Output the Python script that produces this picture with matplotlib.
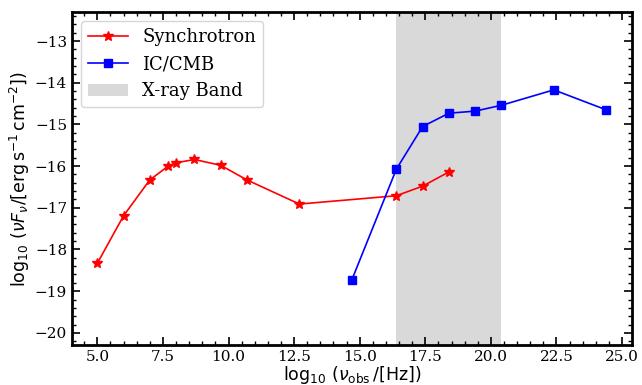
import matplotlib
matplotlib.use('Agg')
import matplotlib.pyplot as plt
from matplotlib.ticker import AutoMinorLocator

plt.rcParams['font.family'] = 'DejaVu Serif'
plt.rcParams['mathtext.fontset'] = 'dejavusans'

sync_x = [5.0, 6.0, 7.0, 7.7, 8.0, 8.7, 9.7, 10.7, 12.7, 16.4, 17.4, 18.4]
sync_y = [-18.33, -17.19, -16.33, -16.0, -15.92, -15.84, -15.98, -16.33, -16.91, -16.71, -16.48, -16.14]

ic_x = [14.7, 16.4, 17.4, 18.4, 19.4, 20.4, 22.4, 24.4]
ic_y = [-18.73, -16.07, -15.05, -14.73, -14.68, -14.54, -14.17, -14.65]

xray_band = (16.4, 20.4)

fig, ax = plt.subplots(figsize=(6.42, 3.85), dpi=100)
fig.subplots_adjust(left=0.112, right=0.984, top=0.969, bottom=0.103)

ax.plot(sync_x, sync_y, '-*', color='red', markersize=7, lw=1.2, label='Synchrotron')
ax.plot(ic_x, ic_y, '-s', color='blue', markersize=6, lw=1.2, label='IC/CMB')
ax.axvspan(*xray_band, color='#d9d9d9', lw=0, label='X-ray Band')

ax.set_ylim(-20.3, -12.3)
ax.set_xlabel(r'$\log_{10}\,(\nu_{\rm obs}\,/[{\rm Hz}])$', fontsize=12.5, labelpad=0)
ax.set_ylabel(r'$\log_{10}\,(\nu F_\nu/[{\rm erg\,s^{-1}\,cm^{-2}}])$', fontsize=12.5, labelpad=2)

ax.xaxis.set_minor_locator(AutoMinorLocator(5))
ax.yaxis.set_minor_locator(AutoMinorLocator(5))
ax.tick_params(which='both', direction='in', top=True, right=True, labelsize=11)
ax.tick_params(axis='x', pad=3)
ax.tick_params(which='major', length=6, width=1.2)
ax.tick_params(which='minor', length=3, width=1)
for s in ax.spines.values():
    s.set_linewidth(2)

ax.legend(loc='upper left', fontsize=13, handlelength=2.2)
fig.savefig('out.png', dpi=100)
